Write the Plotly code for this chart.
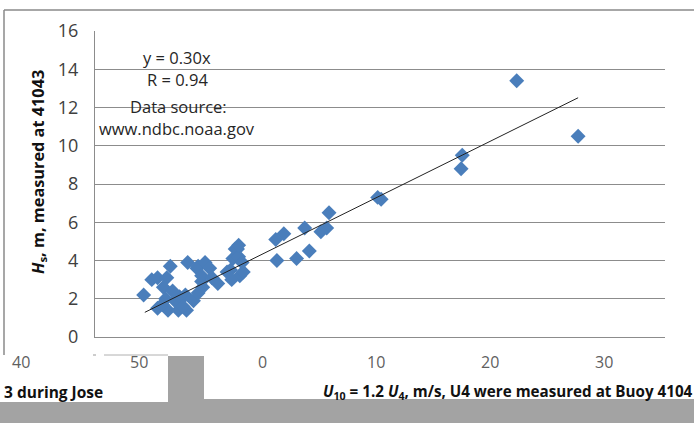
import plotly.graph_objects as go

# U10 (m/s) and Hs (m)
u10 = [36.4, 41.7, 31.7, 31.6, 24.4, 24.7, 20.2, 20.0, 19.5, 18.1, 18.5, 17.4, 16.3, 15.6, 15.7,
       12.3, 11.9, 12.5, 11.7, 12.1, 12.4, 12.7, 12.8, 11.4, 11.8, 12.4,
       4.2, 4.9, 5.4, 6.5, 6.2, 5.9, 6.1, 5.4, 6.3, 7.2, 7.9, 8.0, 8.8, 7.8, 8.5, 6.9, 9.2,
       8.9, 9.5, 9.9, 9.2, 10.1, 10.6, 8.9, 9.3, 7.3, 6.7, 5.8, 7.6]
hs = [13.4, 10.5, 9.5, 8.8, 7.3, 7.2, 6.5, 5.7, 5.5, 5.7, 4.5, 4.1, 5.4, 5.1, 4.0,
      4.6, 4.1, 3.2, 3.5, 4.6, 4.2, 3.9, 3.4, 3.4, 3.0, 4.8,
      2.2, 3.0, 3.1, 3.7, 3.1, 2.6, 2.0, 1.5, 1.4, 1.4, 1.4, 3.9, 3.6, 2.2, 1.9, 1.9, 2.9,
      3.7, 3.9, 3.6, 3.2, 3.1, 2.8, 2.3, 2.6, 2.1, 2.4, 1.7, 1.6]

slope = 0.30
trend_x = [4.3, 41.7]
trend_y = [slope * v for v in trend_x]

y_ticks = [0, 2, 4, 6, 8, 10, 12, 14, 16]
strip_labels = ["40", "50", "0", "10", "20", "30"]

fig = go.Figure()
fig.add_trace(go.Scatter(x=u10, y=hs, mode="markers",
                         marker=dict(symbol="diamond", size=11.5, color="#4A7EBB",
                                     line=dict(width=0)),
                         showlegend=False, hoverinfo="skip"))
fig.add_trace(go.Scatter(x=trend_x, y=trend_y, mode="lines",
                         line=dict(color="#222222", width=1),
                         showlegend=False, hoverinfo="skip"))

def px_x(p):
    return (p - 95) / 570.0

def px_y(p):
    return (337 - p) / 306.0

shapes = [
    # outer chart frame (top and left)
    dict(type="line", xref="paper", yref="paper", x0=px_x(4), x1=px_x(700), y0=px_y(10), y1=px_y(10),
         line=dict(color="#8a8a8a", width=1.5)),
    dict(type="line", xref="paper", yref="paper", x0=px_x(4), x1=px_x(4), y0=px_y(10), y1=px_y(355),
         line=dict(color="#8a8a8a", width=1.5)),
    dict(type="line", xref="paper", yref="paper", x0=px_x(93), x1=px_x(96), y0=px_y(355), y1=px_y(355),
         line=dict(color="#9a9a9a", width=1)),
    dict(type="line", xref="paper", yref="paper", x0=px_x(104), x1=px_x(168), y0=px_y(355), y1=px_y(355),
         line=dict(color="#b0b0b0", width=1)),
    # gray bands
    dict(type="rect", xref="paper", yref="paper", x0=px_x(-5), x1=px_x(168), y0=px_y(430), y1=px_y(402),
         fillcolor="#a3a3a3", line=dict(width=0), layer="above"),
    dict(type="rect", xref="paper", yref="paper", x0=px_x(168), x1=px_x(700), y0=px_y(430), y1=px_y(399),
         fillcolor="#a3a3a3", line=dict(width=0), layer="above"),
    dict(type="rect", xref="paper", yref="paper", x0=px_x(168), x1=px_x(204), y0=px_y(430), y1=px_y(356),
         fillcolor="#a3a3a3", line=dict(width=0), layer="above"),
]

annotations = []
inner = [("y = 0.30x", 177, 57), ("R = 0.94", 177, 79), ("Data source:", 178, 106),
         ("www.ndbc.noaa.gov", 177, 128)]
for t, x, y in inner:
    annotations.append(dict(text=t, xref="paper", yref="paper", x=px_x(x), y=px_y(y),
                            xanchor="center", yanchor="middle", showarrow=False,
                            font=dict(family="Open Sans", size=16.5, color="#262626")))
strip_pos = [21, 139, 262, 376, 490, 604]
for t, x in zip(strip_labels, strip_pos):
    annotations.append(dict(text=t, xref="paper", yref="paper", x=px_x(x), y=px_y(362),
                            xanchor="center", yanchor="middle", showarrow=False,
                            font=dict(family="Open Sans", size=16, color="#5f5f5f")))
annotations.append(dict(text="<b>3 during Jose</b>", xref="paper", yref="paper", x=px_x(2), y=px_y(392),
                        xanchor="left", yanchor="middle", showarrow=False,
                        font=dict(family="Open Sans", size=15.5, color="#111111")))
annotations.append(dict(text="<b><i>U</i><sub>10</sub> = 1.2 <i>U</i><sub>4</sub>, m/s, U4 were measured at Buoy 4104</b>",
                        xref="paper", yref="paper", x=px_x(321), y=px_y(392),
                        xanchor="left", yanchor="middle", showarrow=False,
                        font=dict(family="Open Sans", size=15.2, color="#111111")))
annotations.append(dict(text="<b><i>H</i><sub>s</sub>, m, measured at 41043</b>",
                        xref="paper", yref="paper", x=px_x(38), y=px_y(172),
                        xanchor="center", yanchor="middle", showarrow=False, textangle=-90,
                        font=dict(family="Open Sans", size=16.3, color="#111111")))

fig.update_layout(
    width=694, height=423,
    margin=dict(l=95, r=29, t=31, b=86),
    paper_bgcolor="white", plot_bgcolor="white",
    xaxis=dict(range=[0, 49.2], showgrid=False, zeroline=False, showticklabels=False,
               showline=True, linecolor="#8c8c8c", linewidth=1, fixedrange=True),
    yaxis=dict(range=[0, 16], tickvals=y_ticks, showgrid=True, gridcolor="#8c8c8c", gridwidth=1,
               zeroline=False, showline=True, linecolor="#8c8c8c", linewidth=1,
               tickfont=dict(family="Open Sans", size=18, color="#404040"), ticks="",
               ticklabelstandoff=12),
    shapes=shapes, annotations=annotations,
)

fig.write_html("out.html", config={"displayModeBar": False},
               post_script="document.body.style.margin='0';")
